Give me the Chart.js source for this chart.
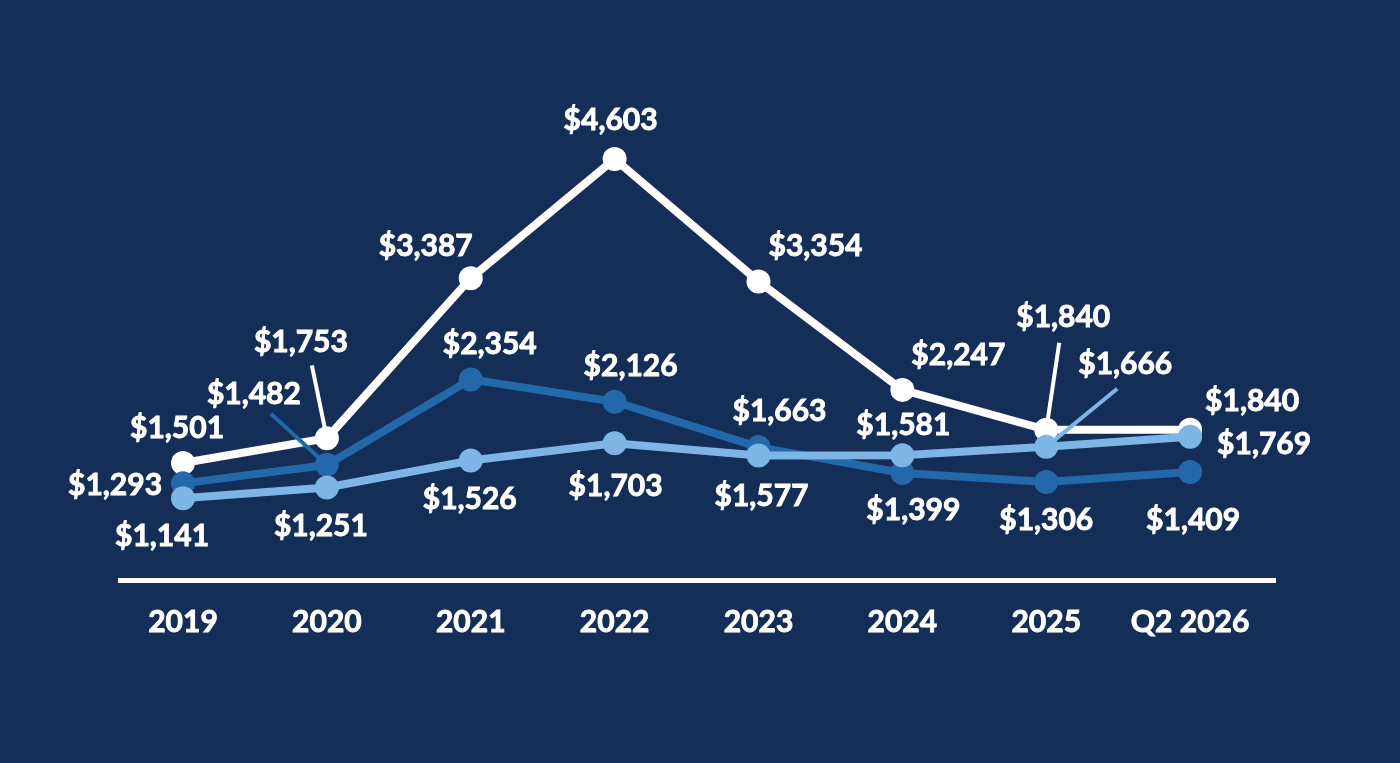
<!DOCTYPE html>
<html>
<head>
<meta charset="utf-8">
<title>Price trend</title>
<script src="https://cdn.jsdelivr.net/npm/chart.js@4/dist/chart.umd.min.js"></script>
<style>
  html, body { margin: 0; padding: 0; background: #142e57; }
  #wrap { width: 1400px; height: 763px; position: relative; }
</style>
</head>
<body>
<div id="wrap"><canvas id="myChart"></canvas></div>
<script>
// data
const categories = ["2019", "2020", "2021", "2022", "2023", "2024", "2025", "Q2 2026"];
const whiteSeries = [1501, 1753, 3387, 4603, 3354, 2247, 1840, 1840];
const midSeries = [1293, 1482, 2354, 2126, 1663, 1399, 1306, 1409];
const lightSeries = [1141, 1251, 1526, 1703, 1577, 1581, 1666, 1769];

// label placement (offset of label centre from point, optional leader start)
const whiteLabelPos = [[-6, -35], [-26, -96, -15, -73], [-45, -32], [-4, -39], [57, -35], [56, -35], [17, -112, 13, -87], [62, -28]];
const midLabelPos = [[-68, 2], [-73, -71, -56, -51], [19, -35], [16, -35], [21, -36], [11, 37], [0, 38], [3, 48]];
const lightLabelPos = [[-21, 38], [-6, 39], [-1, 39], [1, 43], [3, 41], [1, -30], [79, -82, 71, -58], [74, 8]];

const WHITE = "#ffffff";
const MID = "#2268ab";
const LIGHT = "#7db5e5";
const FONT = "Lato, 'Open Sans', sans-serif";

const toPoints = (arr) => arr.map((v, i) => ({ x: i, y: v }));
const money = (v) => "$" + v.toLocaleString("en-US");

const makeSet = (label, values, color, order, pos) => ({
  label: label,
  data: toPoints(values),
  borderColor: color,
  backgroundColor: color,
  pointBackgroundColor: color,
  pointBorderWidth: 0,
  pointRadius: 12,
  borderWidth: 8,
  tension: 0,
  order: order,
  labelPos: pos,
});

// draws the value labels and the little leader lines
const valueLabels = {
  id: "valueLabels",
  afterDatasetsDraw(chart) {
    const ctx = chart.ctx;
    ctx.save();
    ctx.font = "bold 30px " + FONT;
    ctx.textAlign = "center";
    ctx.textBaseline = "middle";
    chart.data.datasets.forEach((ds, di) => {
      const meta = chart.getDatasetMeta(di);
      meta.data.forEach((pt, i) => {
        const p = ds.labelPos[i];
        if (p.length > 2) {
          const sx = pt.x + p[2], sy = pt.y + p[3];
          const dx = pt.x - sx, dy = pt.y - sy;
          const len = Math.sqrt(dx * dx + dy * dy);
          const k = (len - 11) / len;
          ctx.strokeStyle = ds.borderColor;
          ctx.lineWidth = 4;
          ctx.beginPath();
          ctx.moveTo(sx, sy);
          ctx.lineTo(sx + dx * k, sy + dy * k);
          ctx.stroke();
        }
        const tx = pt.x + p[0], ty = pt.y + p[1];
        const txt = money(ds.data[i].y);
        // a thin outline makes Lato look as heavy as the original face
        ctx.strokeStyle = WHITE;
        ctx.lineWidth = 0.9;
        ctx.strokeText(txt, tx, ty);
        ctx.fillStyle = WHITE;
        ctx.fillText(txt, tx, ty);
      });
    });
    ctx.restore();
  },
};

const config = {
  type: "line",
  data: {
    datasets: [
      makeSet("Series A", whiteSeries, WHITE, 3, whiteLabelPos),
      makeSet("Series B", midSeries, MID, 2, midLabelPos),
      makeSet("Series C", lightSeries, LIGHT, 1, lightLabelPos),
    ],
  },
  options: {
    responsive: true,
    maintainAspectRatio: false,
    animation: false,
    events: [],
    layout: {
      padding: { left: 120, right: 125, top: 100, bottom: 99 },
    },
    scales: {
      x: {
        type: "linear",
        min: -0.438,
        max: 7.59,
        afterBuildTicks: (axis) => {
          axis.ticks = categories.map((c, i) => ({ value: i }));
        },
        grid: { display: false, drawTicks: false },
        border: { display: true, color: WHITE, width: 5 },
        ticks: {
          color: WHITE,
          autoSkip: false,
          maxRotation: 0,
          padding: 24,
          textStrokeColor: WHITE,
          textStrokeWidth: 0.9,
          font: { family: FONT, size: 30, weight: "bold" },
          callback: (value) => categories[value],
        },
      },
      y: {
        display: false,
        min: 307,
        max: 5205,
      },
    },
    plugins: {
      legend: { display: false },
      tooltip: { enabled: false },
      title: { display: false },
    },
  },
  plugins: [valueLabels],
};

const ctx = document.getElementById("myChart").getContext("2d");
new Chart(ctx, config);
</script>
</body>
</html>
